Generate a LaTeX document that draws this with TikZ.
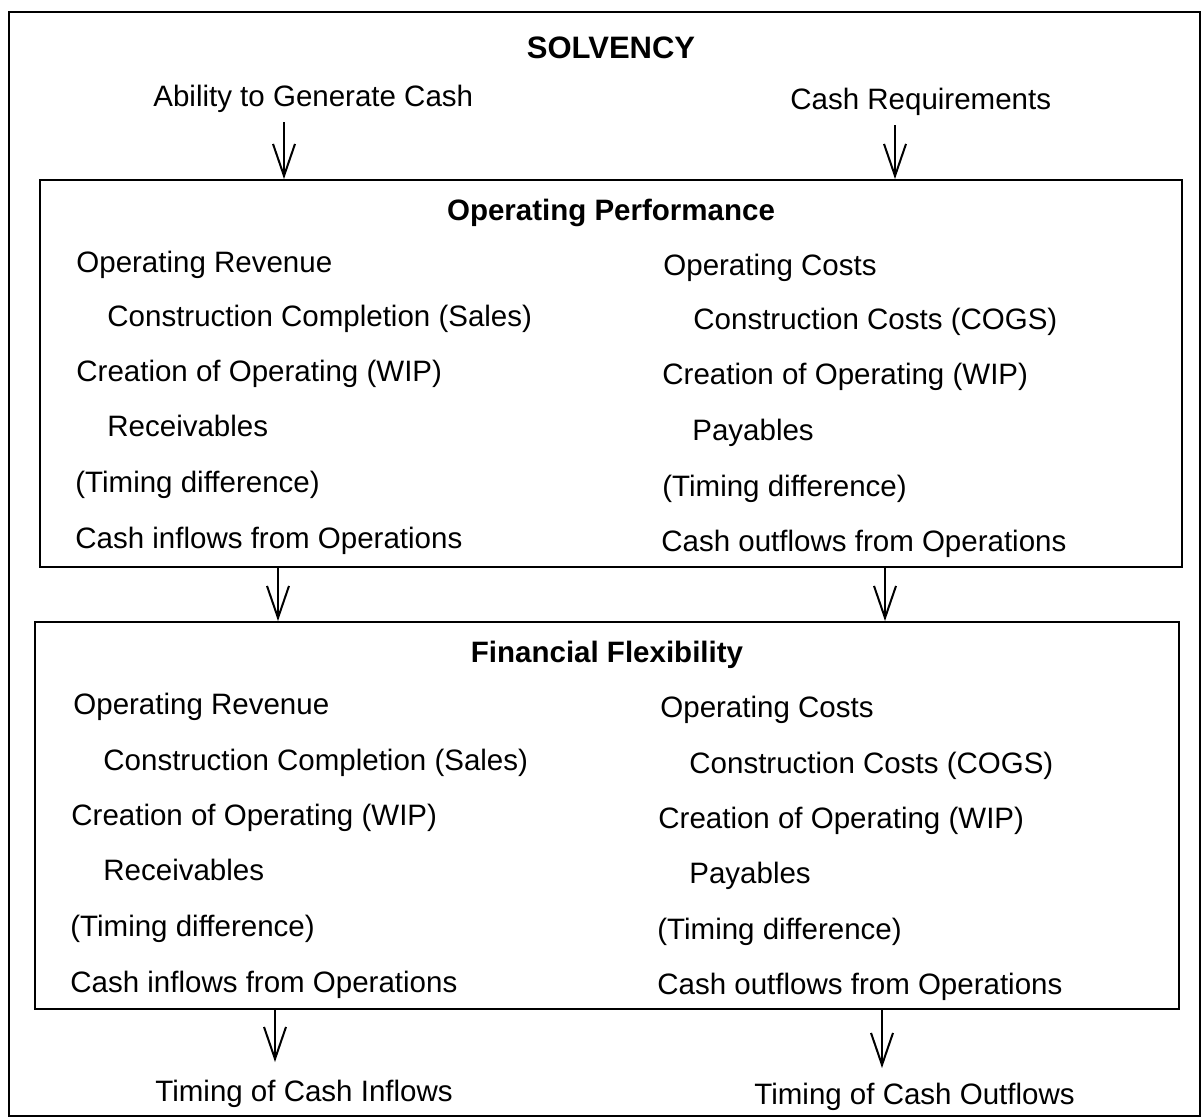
\documentclass[tikz,border=0pt]{standalone}
\usepackage{fontspec}
\setmainfont{Liberation Sans}
\usetikzlibrary{arrows.meta}
\begin{document}
\begin{tikzpicture}[x=0.5pt,y=-0.5pt,
  txt/.style={anchor=base west,inner sep=0pt,font=\fontsize{14.75}{17}\selectfont},
  ttl/.style={anchor=base,inner sep=0pt,font=\fontsize{14.75}{17}\selectfont\bfseries},
  frame/.style={draw,line width=1pt,inner sep=0pt,anchor=north west},
  flow/.style={line width=1pt,-{Straight Barb[length=16pt,width=11pt,line width=1pt]}}]
\useasboundingbox (0,0) rectangle (1204,1119);
\fill[white] (0,0) rectangle (1204,1119);

% outer frame and the two panels
\draw[line width=1pt] (9,12) rectangle (1200,1116);
\node[frame,minimum width=571pt,minimum height=193.5pt] (op) at (39,179) {};
\node[frame,minimum width=572pt,minimum height=193.5pt] (ff) at (34,621) {};

% headings
\node[ttl,font=\fontsize{15.5}{18}\selectfont\bfseries] (solv) at (611,58) {SOLVENCY};
\node[txt] (gen) at (153,106) {Ability to Generate Cash};
\node[txt] (req) at (790,109) {Cash Requirements};
\node[ttl] (opt) at (611,220) {Operating Performance};
\node[ttl] (fft) at (607,662) {Financial Flexibility};

% operating performance, left column
\node[txt] (l1) at (76,272) {Operating Revenue};
\node[txt] (l2) at (107,326) {Construction Completion (Sales)};
\node[txt] (l3) at (76,381) {Creation of Operating (WIP)};
\node[txt] (l4) at (107,436) {Receivables};
\node[txt] (l5) at (75,492) {(Timing difference)};
\node[txt] (l6) at (75,548) {Cash inflows from Operations};
% operating performance, right column
\node[txt] (r1) at (663,275) {Operating Costs};
\node[txt] (r2) at (693,329) {Construction Costs (COGS)};
\node[txt] (r3) at (662,384) {Creation of Operating (WIP)};
\node[txt] (r4) at (692,440) {Payables};
\node[txt] (r5) at (662,496) {(Timing difference)};
\node[txt] (r6) at (661,551) {Cash outflows from Operations};

% financial flexibility, left column
\node[txt] (fl1) at (73,714) {Operating Revenue};
\node[txt] (fl2) at (103,770) {Construction Completion (Sales)};
\node[txt] (fl3) at (71,825) {Creation of Operating (WIP)};
\node[txt] (fl4) at (103,880) {Receivables};
\node[txt] (fl5) at (70,936) {(Timing difference)};
\node[txt] (fl6) at (70,992) {Cash inflows from Operations};
% financial flexibility, right column
\node[txt] (fr1) at (660,717) {Operating Costs};
\node[txt] (fr2) at (689,773) {Construction Costs (COGS)};
\node[txt] (fr3) at (658,828) {Creation of Operating (WIP)};
\node[txt] (fr4) at (689,883) {Payables};
\node[txt] (fr5) at (657,939) {(Timing difference)};
\node[txt] (fr6) at (657,994) {Cash outflows from Operations};

% outcomes
\node[txt] (tin) at (155,1101) {Timing of Cash Inflows};
\node[txt] (tout) at (754,1104) {Timing of Cash Outflows};

% arrow ends
\coordinate (g0) at (284,122);
\coordinate (q0) at (895,125);
\coordinate (a3) at (278,0);
\coordinate (a4) at (885,0);
\coordinate (a5) at (275,0);
\coordinate (a6) at (882,0);
\coordinate (e5) at (275,1062);
\coordinate (e6) at (882,1068);

\draw[flow] (g0) -- (g0 |- op.north);
\draw[flow] (q0) -- (q0 |- op.north);
\draw[flow] (a3 |- op.south) -- (a3 |- ff.north);
\draw[flow] (a4 |- op.south) -- (a4 |- ff.north);
\draw[flow] (a5 |- ff.south) -- (e5);
\draw[flow] (a6 |- ff.south) -- (e6);
\end{tikzpicture}
\end{document}
